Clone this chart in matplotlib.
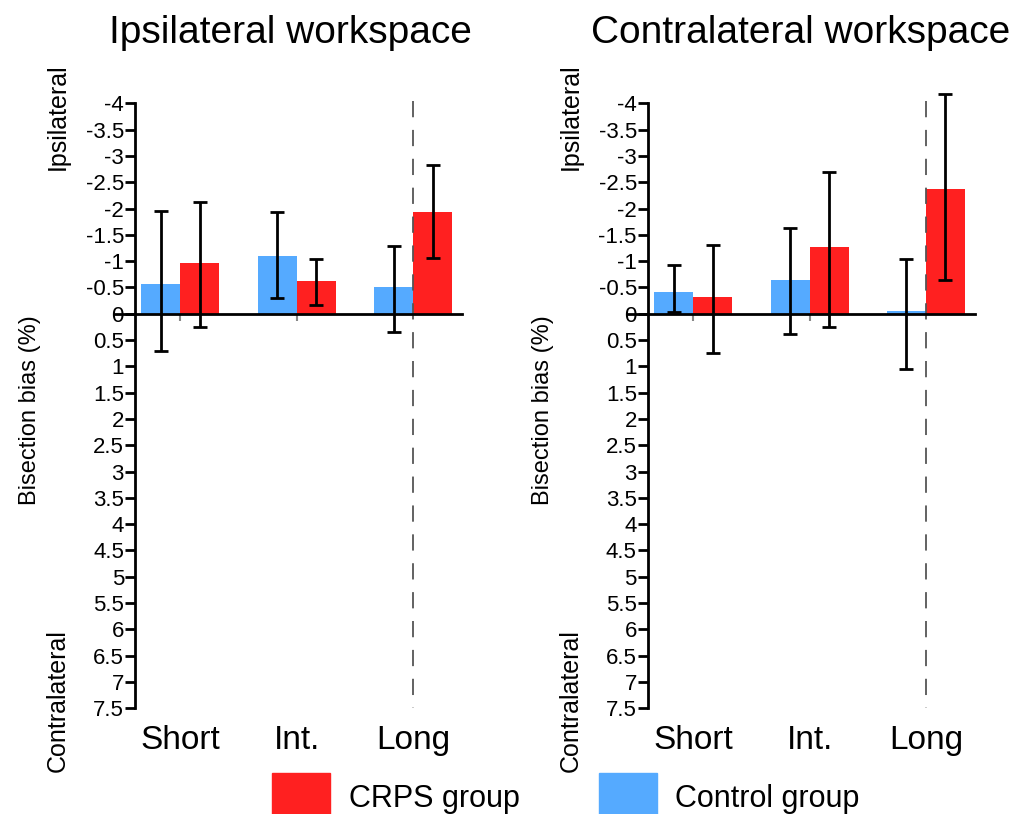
import matplotlib.pyplot as plt
from matplotlib.patches import Patch
from matplotlib.ticker import FuncFormatter, MultipleLocator
import numpy as np

plt.rcParams['font.family'] = ['Liberation Sans', 'DejaVu Sans']

categories = ["Short", "Int.", "Long"]
titles = ["Ipsilateral workspace", "Contralateral workspace"]

# mean bisection bias (%) and error bar ends, negative = ipsilateral
ipsi_control = [-0.56, -1.10, -0.50]
ipsi_control_lo = [-1.96, -1.94, -1.29]
ipsi_control_hi = [0.71, -0.30, 0.35]
ipsi_crps = [-0.96, -0.63, -1.94]
ipsi_crps_lo = [-2.13, -1.05, -2.83]
ipsi_crps_hi = [0.25, -0.16, -1.06]

contra_control = [-0.41, -0.64, -0.06]
contra_control_lo = [-0.93, -1.63, -1.04]
contra_control_hi = [-0.04, 0.38, 1.06]
contra_crps = [-0.32, -1.26, -2.37]
contra_crps_lo = [-1.31, -2.69, -4.17]
contra_crps_hi = [0.75, 0.25, -0.65]

blue = "#55AAFF"
red = "#FF2020"

fig = plt.figure(figsize=(10.31, 8.14), dpi=100)
ax1 = fig.add_axes([0.131, 0.130, 0.317, 0.743])
ax2 = fig.add_axes([0.6285, 0.130, 0.317, 0.743])

panels = [
    (ax1, ipsi_control, ipsi_control_lo, ipsi_control_hi, ipsi_crps, ipsi_crps_lo, ipsi_crps_hi),
    (ax2, contra_control, contra_control_lo, contra_control_hi, contra_crps, contra_crps_lo, contra_crps_hi),
]

x = np.arange(len(categories))
w = 0.335

for ax, ctl, ctl_lo, ctl_hi, crps, crps_lo, crps_hi in panels:
    ctl = np.array(ctl); crps = np.array(crps)
    ax.bar(x - w / 2, ctl, w, color=blue, zorder=2)
    ax.bar(x + w / 2, crps, w, color=red, zorder=2)
    ax.errorbar(x - w / 2, ctl, yerr=[ctl - np.array(ctl_lo), np.array(ctl_hi) - ctl],
                fmt="none", ecolor="black", elinewidth=2, capsize=5, capthick=2,
                zorder=4, clip_on=False)
    ax.errorbar(x + w / 2, crps, yerr=[crps - np.array(crps_lo), np.array(crps_hi) - crps],
                fmt="none", ecolor="black", elinewidth=2, capsize=5, capthick=2,
                zorder=4, clip_on=False)
    # small grey marks at group centres
    ax.vlines(x[:2], 0, 0.13, color="#888888", lw=1.5, zorder=3)
    # dashed line at long
    ax.plot([x[2], x[2]], [-4.05, 7.5], color="#555555", lw=1.3, dashes=(9, 7), zorder=3,
            clip_on=False)
    # zero line
    ax.plot([-0.065, 1], [0, 0], transform=ax.get_yaxis_transform(), color="black",
            lw=2, clip_on=False, zorder=5)

    ax.set_ylim(7.5, -4)
    ax.set_xlim(-0.39, 2.42)
    ax.yaxis.set_major_locator(MultipleLocator(0.5))
    ax.yaxis.set_major_formatter(FuncFormatter(lambda v, p: f"{v:g}"))
    ax.tick_params(axis="y", direction="out", length=7, width=2, labelsize=16, pad=1)
    ax.set_xticks(x)
    ax.set_xticklabels(categories, fontsize=24)
    ax.tick_params(axis="x", length=0, pad=12)
    for s in ["top", "right", "bottom"]:
        ax.spines[s].set_visible(False)
    ax.spines["left"].set_linewidth(2)
    ax.patch.set_alpha(0)

for off, title in zip([0, 513], titles):
    cx = (290 if off == 0 else 801) / 1031
    fig.text(cx, 1 - 33 / 814, title, ha="center", va="center", fontsize=28)
    fig.text((30 + off) / 1031, 1 - 410 / 814, "Bisection bias (%)", rotation=90,
             ha="center", va="center", fontsize=17)
    fig.text((58 + off) / 1031, 1 - 117 / 814, "Ipsilateral", rotation=90,
             ha="center", va="center", fontsize=18)
    fig.text((58 + off) / 1031, 1 - 701 / 814, "Contralateral", rotation=90,
             ha="center", va="center", fontsize=18)

handles = [Patch(color=red, label="CRPS group"), Patch(color=blue, label="Control group")]
fig.legend(handles=handles, loc="upper left", bbox_to_anchor=(0.264, 0.05), ncol=2,
           frameon=False, fontsize=22, handlelength=1.9, handleheight=2.0,
           handletextpad=0.6, columnspacing=2.6, borderpad=0.0, borderaxespad=0.0)

fig.savefig("out.png", dpi=100)
